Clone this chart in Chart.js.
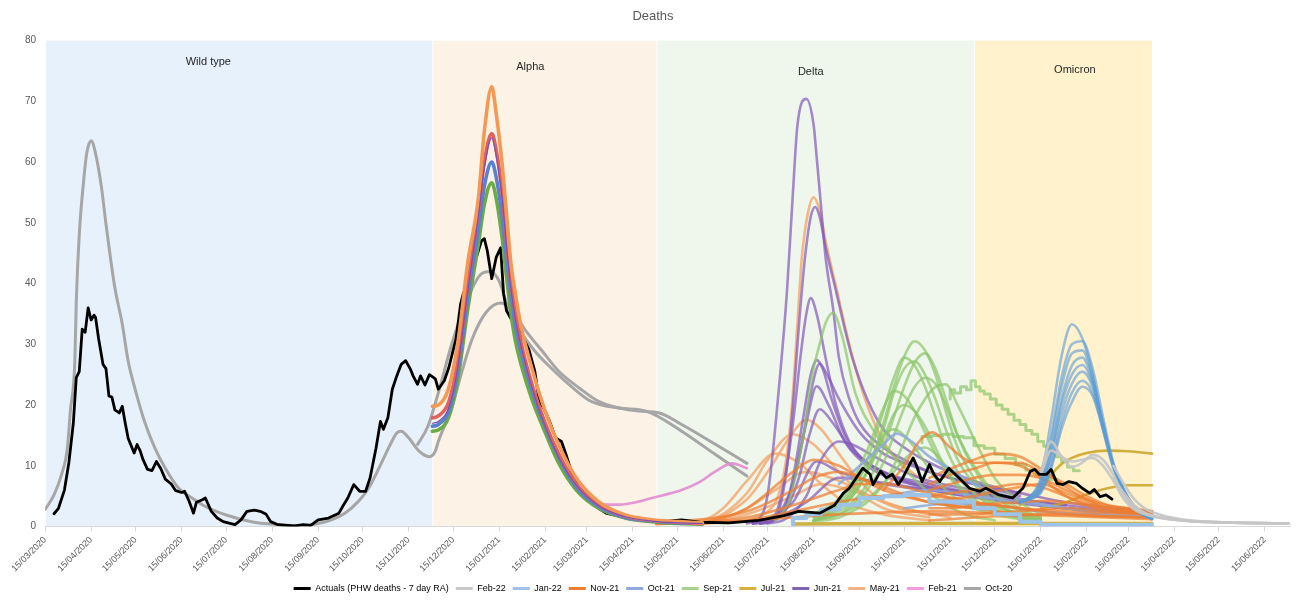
<!DOCTYPE html>
<html>
<head>
<meta charset="utf-8">
<title>Deaths</title>
<script src="https://cdn.jsdelivr.net/npm/chart.js@4.4.1/dist/chart.umd.min.js"></script>
<style>
  html, body { margin: 0; padding: 0; background: #fff; }
  canvas { display: block; }
</style>
</head>
<body>
<canvas id="deaths-chart" width="1298" height="603"></canvas>
<script>
/* ── Deaths: actuals vs modelled projections ── */

// ── Axis labels and variant periods ───────────
const xTickLabels = [
  '15/03/2020', '15/04/2020', '15/05/2020', '15/06/2020', '15/07/2020', '15/08/2020', '15/09/2020',
  '15/10/2020', '15/11/2020', '15/12/2020', '15/01/2021', '15/02/2021', '15/03/2021', '15/04/2021',
  '15/05/2021', '15/06/2021', '15/07/2021', '15/08/2021', '15/09/2021', '15/10/2021', '15/11/2021',
  '15/12/2021', '15/01/2022', '15/02/2022', '15/03/2022', '15/04/2022', '15/05/2022', '15/06/2022'
];
const xFirst = '15/03/2020';
const xLast = '02/07/2022';

const variantNames = ['Wild type', 'Alpha', 'Delta', 'Omicron'];
const variantFrom  = ['15/03/2020', '01/12/2020', '01/05/2021', '01/12/2021'];
const variantTo    = ['01/12/2020', '01/05/2021', '01/12/2021', '31/03/2022'];
// where each variant name is written
const variantLabelAt    = ['03/07/2020', '05/02/2021', '13/08/2021', '07/02/2022'];
const variantLabelLevel = [76.4, 75.7, 74.8, 75.2];

// ── Actuals (PHW deaths - 7 day RA) ───────────
const actualDeaths = [
  ['21/03/20', 2.1], ['24/03/20', 3.0], ['28/03/20', 6], ['31/03/20', 10.5], ['03/04/20', 17], ['05/04/20', 24.5],
  ['07/04/20', 25.5], ['09/04/20', 32.5], ['11/04/20', 32], ['13/04/20', 36], ['15/04/20', 34], ['17/04/20', 34.8],
  ['18/04/20', 34.4], ['20/04/20', 31], ['23/04/20', 26.7], ['25/04/20', 26], ['27/04/20', 21.5], ['29/04/20', 21.3],
  ['01/05/20', 19.2], ['04/05/20', 18.7], ['06/05/20', 19.8], ['08/05/20', 17], ['10/05/20', 14.5], ['14/05/20', 12.1],
  ['16/05/20', 13.5], ['18/05/20', 12.5], ['20/05/20', 11], ['23/05/20', 9.4], ['26/05/20', 9.2], ['29/05/20', 10.7],
  ['01/06/20', 9.5], ['04/06/20', 7.8], ['08/06/20', 7], ['11/06/20', 5.9], ['15/06/20', 5.6], ['17/06/20', 5.8],
  ['20/06/20', 4.2], ['23/06/20', 2.2], ['25/06/20', 4], ['29/06/20', 4.4], ['01/07/20', 4.7], ['05/07/20', 2.5],
  ['09/07/20', 1.4], ['13/07/20', 0.8], ['21/07/20', 0.3], ['25/07/20', 1.1], ['29/07/20', 2.5], ['03/08/20', 2.7],
  ['07/08/20', 2.5], ['11/08/20', 2], ['14/08/20', 0.8], ['19/08/20', 0.3], ['30/08/20', 0.1], ['05/09/20', 0.3],
  ['10/09/20', 0.2], ['15/09/20', 1.1], ['22/09/20', 1.4], ['29/09/20', 2.2], ['02/10/20', 3.5], ['05/10/20', 4.7],
  ['09/10/20', 6.9], ['13/10/20', 5.8], ['17/10/20', 5.8], ['20/10/20', 8], ['24/10/20', 12.9], ['27/10/20', 17.3],
  ['29/10/20', 16], ['01/11/20', 17.9], ['04/11/20', 22.6], ['07/11/20', 24.8], ['10/11/20', 26.7], ['13/11/20', 27.3],
  ['16/11/20', 26], ['18/11/20', 24.8], ['21/11/20', 23.4], ['23/11/20', 24.8], ['26/11/20', 23.3], ['29/11/20', 25],
  ['03/12/20', 24.3], ['05/12/20', 22.6], ['09/12/20', 24], ['12/12/20', 26.1], ['17/12/20', 31], ['20/12/20', 36.6],
  ['22/12/20', 38.5], ['24/12/20', 38.3], ['29/12/20', 43], ['03/01/21', 47], ['05/01/21', 47.4], ['07/01/21', 45.4],
  ['10/01/21', 40.8], ['13/01/21', 44.3], ['16/01/21', 45.9], ['18/01/21', 38.3], ['20/01/21', 35.5], ['23/01/21', 34.2],
  ['29/01/21', 32], ['04/02/21', 29.2], ['08/02/21', 25.6], ['11/02/21', 20.6], ['14/02/21', 19.5], ['18/02/21', 17.3],
  ['22/02/21', 14.6], ['26/02/21', 14], ['01/03/21', 11.9], ['05/03/21', 8.8], ['10/03/21', 6.1], ['14/03/21', 4.9],
  ['18/03/21', 4.7], ['23/03/21', 3], ['28/03/21', 2.2], ['06/04/21', 1.7], ['19/04/21', 1.4], ['26/04/21', 0.8],
  ['05/05/21', 0.8], ['18/05/21', 1.1], ['30/05/21', 0.7], ['19/06/21', 0.6], ['09/07/21', 1], ['26/07/21', 1.8],
  ['05/08/21', 2.5], ['19/08/21', 2.2], ['29/08/21', 3.5], ['04/09/21', 5.5], ['08/09/21', 6.3], ['17/09/21', 9.6],
  ['22/09/21', 8.6], ['24/09/21', 6.9], ['29/09/21', 9.1], ['03/10/21', 8], ['07/10/21', 8.6], ['11/10/21', 6.9],
  ['14/10/21', 8], ['21/10/21', 11.3], ['23/10/21', 10.2], ['27/10/21', 7.4], ['01/11/21', 10.2], ['04/11/21', 8.6],
  ['08/11/21', 7.4], ['14/11/21', 9.6], ['21/11/21', 8], ['28/11/21', 6.3], ['05/12/21', 5.8], ['09/12/21', 6.3],
  ['18/12/21', 5.2], ['27/12/21', 4.7], ['03/01/22', 6.3], ['08/01/22', 9.1], ['11/01/22', 9.4], ['14/01/22', 8.6],
  ['19/01/22', 8.6], ['22/01/22', 9.4], ['26/01/22', 7.1], ['30/01/22', 6.9], ['03/02/22', 7.4], ['08/02/22', 7.1],
  ['12/02/22', 6.3], ['17/02/22', 5.5], ['20/02/22', 6.1], ['24/02/22', 4.9], ['28/02/22', 5.2], ['04/03/22', 4.5]
];

// ── Oct-20 runs ───────────────────────────────
const oct20RunA = [
  ['15/03/20', 2.8], ['21/03/20', 5.2], ['26/03/20', 8.5], ['30/03/20', 12.9], ['01/04/20', 19], ['04/04/20', 27],
  ['05/04/20', 37], ['07/04/20', 48], ['10/04/20', 57], ['12/04/20', 61.4], ['15/04/20', 63.5], ['18/04/20', 61.4],
  ['22/04/20', 55.8], ['25/04/20', 49.8], ['28/04/20', 44.3], ['01/05/20', 39.3], ['06/05/20', 33.3], ['10/05/20', 27.2],
  ['15/05/20', 22.3], ['21/05/20', 17.3], ['28/05/20', 12.9], ['04/06/20', 9.6], ['13/06/20', 6.3], ['22/06/20', 4.7],
  ['01/07/20', 3.3], ['15/07/20', 1.9], ['01/08/20', 0.8], ['19/08/20', 0.3], ['02/09/20', 0.1], ['15/09/20', 0.5],
  ['24/09/20', 1.1], ['03/10/20', 2.2], ['12/10/20', 4.1], ['19/10/20', 6.3], ['26/10/20', 9.6], ['02/11/20', 13.2],
  ['07/11/20', 15.4], ['10/11/20', 15.7], ['15/11/20', 14.6], ['22/11/20', 12.4], ['29/11/20', 11.5], ['03/12/20', 12.4],
  ['05/12/20', 14], ['14/12/20', 19.5], ['21/12/20', 25.6], ['28/12/20', 31], ['06/01/21', 35.2], ['16/01/21', 36.8],
  ['24/01/21', 35.5], ['02/02/21', 32.2], ['13/02/21', 28.9], ['24/02/21', 25.6], ['10/03/21', 22.8], ['23/03/21', 20.6],
  ['06/04/21', 19.5], ['19/04/21', 19], ['03/05/21', 18.7], ['18/05/21', 16.8], ['10/06/21', 13.5], ['01/07/21', 10.4]
];
const oct20RunB = [
  ['21/11/20', 13.5], ['28/11/20', 16.5], ['05/12/20', 22], ['14/12/20', 30], ['25/12/20', 37.7], ['03/01/21', 41.6],
  ['09/01/21', 42], ['15/01/21', 40.4], ['21/01/21', 36], ['28/01/21', 32.7], ['08/02/21', 28.9], ['19/02/21', 26.1],
  ['03/03/21', 23.4], ['18/03/21', 20.6], ['06/04/21', 19.5], ['24/04/21', 19], ['18/05/21', 15.7], ['10/06/21', 11.8],
  ['01/07/21', 8.3]
];

// ── Alpha-wave runs (Dec-20) ──────────────────
const alphaDates = [
  '01/12/20', '05/12/20', '12/12/20', '18/12/20', '25/12/20', '01/01/21', '05/01/21', '10/01/21', '13/01/21', '17/01/21',
  '20/01/21', '23/01/21', '26/01/21', '30/01/21', '06/02/21', '15/02/21', '24/02/21', '08/03/21', '23/03/21', '10/04/21',
  '28/04/21', '16/05/21', '01/06/21'
];
const alphaHigh   = [19.8, 20, 22.8, 30, 43.7, 54, 65, 72.4, 68, 59.7, 51.4, 43.2, 38.2, 32.7, 26.1, 19, 13.5, 8, 4.1, 1.9, 1.1, 0.8, 0.6];
const alphaUpper  = [17.9, 18.2, 20.5, 27, 40, 52, 60, 64.7, 62, 55, 47, 40, 35, 30, 23.5, 17, 12, 7, 3.6, 1.7, 1, 0.7, 0.5];
const alphaMiddle = [17, 17.3, 19.5, 26, 39, 51, 59, 64, 61, 54, 46, 39, 34, 29.5, 23, 16.5, 11.5, 6.8, 3.4, 1.6, 0.9, 0.6, 0.5];
const alphaLower  = [16.5, 16.8, 19, 25.5, 38, 49, 56, 60, 57.5, 51, 44, 38, 33, 28.5, 22.5, 16.5, 11.5, 6.5, 3.3, 1.5, 0.9, 0.6, 0.5];
const alphaLow    = [15.7, 15.9, 18, 24, 36, 46.5, 53, 56.6, 54, 47.5, 41, 35, 30.5, 26.5, 21, 15.5, 10.5, 6, 3, 1.4, 0.8, 0.5, 0.4];

// ── Feb-21 ────────────────────────────────────
const feb21Run = [
  ['17/03/21', 4.6], ['21/03/21', 4], ['28/03/21', 3.6], ['06/04/21', 3.6], ['19/04/21', 4.1], ['28/04/21', 4.7],
  ['18/05/21', 6], ['30/05/21', 7.3], ['10/06/21', 9.1], ['21/06/21', 10.4], ['01/07/21', 9.6]
];

// ── May-21 ────────────────────────────────────
const may21Runs = [
  [['01/07/21', 1], ['15/07/21', 2.5], ['22/07/21', 5], ['28/07/21', 12], ['01/08/21', 22], ['04/08/21', 33.3],
   ['07/08/21', 44.3], ['11/08/21', 51.5], ['15/08/21', 54.2], ['19/08/21', 52], ['23/08/21', 47], ['30/08/21', 39.5],
   ['10/09/21', 28], ['20/09/21', 20], ['01/10/21', 14], ['15/10/21', 10], ['01/11/21', 7], ['01/12/21', 5]],
  [['01/05/21', 0.5], ['01/06/21', 0.8], ['01/07/21', 4.5], ['15/07/21', 9], ['01/08/21', 15.5], ['10/08/21', 17.6],
   ['20/08/21', 16], ['01/09/21', 12], ['15/09/21', 7.5], ['01/10/21', 4], ['01/11/21', 2]],
  [['01/05/21', 0.5], ['01/06/21', 0.8], ['01/07/21', 5.5], ['15/07/21', 11], ['01/08/21', 15.2], ['15/08/21', 13.5],
   ['01/09/21', 9], ['15/09/21', 5.5], ['01/10/21', 3], ['01/11/21', 1.5]],
  [['01/05/21', 0.5], ['01/06/21', 1], ['15/06/21', 3], ['01/07/21', 7.5], ['20/07/21', 12], ['05/08/21', 10.5],
   ['20/08/21', 7], ['05/09/21', 4], ['01/10/21', 2], ['01/11/21', 1]],
  [['01/05/21', 0.5], ['01/06/21', 0.5], ['01/07/21', 3], ['20/07/21', 6], ['10/08/21', 9], ['01/09/21', 7.5],
   ['01/10/21', 4], ['01/11/21', 2]],
  [['01/06/21', 0.6], ['01/07/21', 2], ['01/08/21', 5], ['20/08/21', 7], ['15/09/21', 5.5], ['15/10/21', 3], ['15/11/21', 1.5]]
];

// ── Jun-21 ────────────────────────────────────
const jun21Runs = [
  [['01/07/21', 0.5], ['10/07/21', 1.5], ['14/07/21', 4], ['17/07/21', 9], ['23/07/21', 24], ['28/07/21', 38.8],
   ['01/08/21', 55], ['04/08/21', 66], ['10/08/21', 70.4], ['15/08/21', 66], ['17/08/21', 60.8], ['20/08/21', 52.5],
   ['23/08/21', 44.3], ['28/08/21', 36], ['01/09/21', 27.8], ['08/09/21', 21], ['15/09/21', 17], ['01/10/21', 13],
   ['15/10/21', 11], ['01/11/21', 9], ['15/11/21', 8], ['01/12/21', 7], ['01/01/22', 5]],
  [['05/07/21', 0.5], ['20/07/21', 1.5], ['27/07/21', 8], ['01/08/21', 20], ['05/08/21', 33], ['09/08/21', 44],
   ['13/08/21', 51], ['16/08/21', 52.6], ['19/08/21', 51], ['23/08/21', 46], ['30/08/21', 38.8], ['05/09/21', 32.5],
   ['10/09/21', 27.8], ['20/09/21', 21], ['01/10/21', 16], ['15/10/21', 13], ['01/11/21', 10.5], ['01/12/21', 7.5],
   ['01/01/22', 5.5]],
  [['05/07/21', 0.5], ['20/07/21', 2], ['28/07/21', 10], ['02/08/21', 19], ['06/08/21', 27.8], ['10/08/21', 35],
   ['13/08/21', 37.6], ['17/08/21', 35], ['23/08/21', 27.8], ['30/08/21', 20], ['08/09/21', 14], ['20/09/21', 10.5],
   ['05/10/21', 8.5], ['01/11/21', 6.5], ['01/12/21', 5], ['01/01/22', 4]],
  [['05/07/21', 0.5], ['25/07/21', 2], ['01/08/21', 8], ['08/08/21', 18], ['13/08/21', 25], ['17/08/21', 27.4],
   ['21/08/21', 26], ['27/08/21', 21], ['05/09/21', 15], ['15/09/21', 11.5], ['01/10/21', 9], ['20/10/21', 7],
   ['15/11/21', 5.5], ['01/12/21', 5], ['01/01/22', 4], ['01/02/22', 3], ['31/03/22', 2]],
  [['10/07/21', 0.5], ['25/07/21', 2.5], ['01/08/21', 7], ['08/08/21', 15], ['13/08/21', 22], ['19/08/21', 26.8],
   ['24/08/21', 25], ['01/09/21', 21], ['15/09/21', 15.5], ['01/10/21', 12], ['15/10/21', 10.5], ['01/11/21', 9],
   ['15/11/21', 8], ['01/12/21', 7], ['01/01/22', 5.5], ['01/02/22', 4], ['31/03/22', 2.5]],
  [['10/07/21', 0.5], ['20/07/21', 1.5], ['01/08/21', 7], ['10/08/21', 17], ['17/08/21', 23.1], ['25/08/21', 20],
   ['05/09/21', 14], ['20/09/21', 10], ['05/10/21', 8], ['01/11/21', 6.5], ['01/12/21', 5.5], ['01/01/22', 4.5]],
  [['10/07/21', 0.5], ['25/07/21', 2], ['05/08/21', 8], ['12/08/21', 15], ['19/08/21', 19.3], ['28/08/21', 17],
   ['10/09/21', 12.5], ['01/10/21', 9], ['01/11/21', 7], ['01/12/21', 5.5], ['01/01/22', 4.5], ['01/02/22', 3.5],
   ['31/03/22', 2.2]],
  [['10/07/21', 0.5], ['25/07/21', 1], ['10/08/21', 5], ['20/08/21', 11], ['01/09/21', 14], ['10/09/21', 13.5],
   ['25/09/21', 11.5], ['15/10/21', 9], ['01/11/21', 7.5], ['01/12/21', 6], ['01/01/22', 4.5], ['01/02/22', 3.5]],
  [['10/07/21', 0.5], ['01/08/21', 4], ['17/08/21', 10.7], ['01/09/21', 9], ['01/10/21', 7], ['01/11/21', 6],
   ['01/12/21', 5], ['01/01/22', 4], ['01/02/22', 3], ['31/03/22', 2]],
  [['15/07/21', 0.5], ['10/08/21', 4], ['01/09/21', 8], ['01/10/21', 7.2], ['01/11/21', 6], ['01/12/21', 4.8],
   ['01/01/22', 3.8], ['01/02/22', 3], ['31/03/22', 2]]
];

// ── Jul-21 ────────────────────────────────────
const jul21Runs = [
  [['01/08/21', 0.4], ['01/11/21', 0.5], ['01/02/22', 0.5], ['31/03/22', 0.5]],
  [['01/01/22', 3.5], ['15/01/22', 6], ['22/01/22', 8.5], ['29/01/22', 10.3], ['05/02/22', 11.3], ['15/02/22', 12.1],
   ['01/03/22', 12.5], ['15/03/22', 12.4], ['31/03/22', 12]],
  [['15/01/22', 3], ['01/02/22', 4], ['15/02/22', 5.3], ['01/03/22', 6.3], ['15/03/22', 6.8], ['31/03/22', 6.8]]
];

// ── Sep-21 ────────────────────────────────────
const sep21Early = [
  ['20/07/21', 1], ['29/07/21', 4], ['03/08/21', 8.6], ['09/08/21', 16.2], ['14/08/21', 25], ['19/08/21', 30],
  ['23/08/21', 33.5], ['28/08/21', 35.2], ['03/09/21', 31.5], ['12/09/21', 22], ['26/09/21', 15.2], ['11/10/21', 10.7],
  ['02/11/21', 5.3], ['25/11/21', 2], ['15/12/21', 1]
];
const sep21Dates = [
  '15/08/21', '01/09/21', '10/09/21', '20/09/21', '01/10/21', '08/10/21', '15/10/21', '22/10/21', '29/10/21',
  '05/11/21', '12/11/21', '20/11/21', '01/12/21', '15/12/21', '01/01/22', '15/01/22'
];
const sep21Runs = [
  [1, 3, 5, 9, 17, 23, 28, 30.5, 29, 25, 19, 13, 8, 4, 2, 1.2],
  [1, 2.5, 4, 7, 13, 18, 23, 27, 28.5, 26, 21, 15, 9.5, 5, 2.5, 1.5],
  [1.5, 3.5, 6, 11, 19, 24.5, 27.8, 26.5, 23, 18, 13, 9, 5.5, 3, 1.5, 1],
  [1, 3, 5, 9, 16, 22, 26, 27.2, 25, 21, 16, 11, 7, 3.5, 2, 1],
  [1, 2, 3.5, 6, 10.5, 15, 19.5, 23, 24.5, 23.5, 20, 15, 10, 5.5, 3, 1.5],
  [0.8, 1.5, 2.5, 4, 7, 10, 14, 18, 21, 23, 23.4, 20, 14.5, 8, 4, 2],
  [2, 4.5, 7.5, 12.5, 19.5, 22.3, 21.5, 19, 15.5, 12, 9, 6.5, 4, 2.5, 1.5, 1],
  [1.5, 3.5, 5.5, 9, 14.5, 18.5, 20, 19, 16.5, 13, 9.5, 7, 4.5, 2.5, 1.5, 1],
  [2, 4, 6.5, 10, 15, 16, 15, 13, 10.5, 8, 6, 4.5, 3, 2, 1.2, 0.8],
  [1, 2, 3, 4.5, 7, 9, 11, 12.5, 13, 12, 10, 8, 5.5, 3.5, 2, 1.2]
];
const sep21StepHigh = [
  ['15/11/21', 21], ['18/11/21', 22.5], ['22/11/21', 22], ['26/11/21', 23], ['29/11/21', 22.5], ['02/12/21', 24],
  ['05/12/21', 23], ['08/12/21', 22.3], ['12/12/21', 21.8], ['16/12/21', 21], ['20/12/21', 20], ['24/12/21', 19.3],
  ['28/12/21', 18.5], ['01/01/22', 17.5], ['05/01/22', 16.8], ['09/01/22', 15.8], ['13/01/22', 15.2], ['17/01/22', 14],
  ['21/01/22', 13.2], ['25/01/22', 12.2], ['29/01/22', 11.5], ['02/02/22', 10.7], ['06/02/22', 9.8], ['10/02/22', 9.2]
];
const sep21StepLow = [
  ['27/10/21', 13.8], ['03/11/21', 14.8], ['10/11/21', 15], ['17/11/21', 15.2], ['24/11/21', 14.8], ['01/12/21', 14.6],
  ['08/12/21', 13.3], ['15/12/21', 12.9], ['22/12/21', 11.9], ['29/12/21', 11.2], ['05/01/22', 10.2], ['12/01/22', 9.3],
  ['19/01/22', 8.6], ['26/01/22', 7.8]
];

// ── Oct-21 ────────────────────────────────────
const oct21Runs = [
  [['01/09/21', 7], ['15/09/21', 10], ['01/10/21', 13.5], ['10/10/21', 15.3], ['20/10/21', 14], ['01/11/21', 11.5],
   ['15/11/21', 9.5], ['01/12/21', 7], ['01/01/22', 4.5], ['01/02/22', 3], ['01/03/22', 2], ['31/03/22', 1.8]],
  [['01/10/21', 5], ['01/11/21', 6], ['01/12/21', 5], ['01/01/22', 4], ['01/02/22', 3], ['31/03/22', 2]],
  [['15/10/21', 3], ['15/11/21', 3.8], ['15/12/21', 3.5], ['15/01/22', 2.5], ['31/03/22', 1.5]]
];

// ── Nov-21 ────────────────────────────────────
const nov21Dates = [
  '01/11/21', '15/11/21', '01/12/21', '15/12/21', '01/01/22', '15/01/22', '01/02/22', '15/02/22', '01/03/22', '15/03/22', '31/03/22'
];
const nov21Runs = [
  [8, 9.5, 11, 12, 11.5, 9.5, 6.5, 4.5, 3.5, 3, 2.5],
  [7, 8.5, 9.5, 10.5, 10.5, 9, 7, 5, 3.5, 3, 2.5],
  [6, 7, 8, 8.5, 8.5, 8, 6, 4.5, 3, 2.5, 2],
  [4, 4.5, 5, 5.8, 6.5, 7, 5.5, 4.2, 3, 2.7, 2.5],
  [3, 3, 3.5, 3.8, 4, 4.2, 4, 3.5, 3, 2.5, 2],
  [2, 2, 2, 2.3, 2.5, 2.8, 3, 2.8, 2.5, 2.3, 2.2],
  [1, 1.2, 1.5, 1.7, 1.8, 2, 2, 1.9, 1.7, 1.6, 1.5],
  [5, 5.5, 6, 6.5, 7, 6.5, 5, 3.8, 3, 2.5, 2.2]
];
const nov21Longer = [
  [['01/10/21', 6], ['15/10/21', 10], ['25/10/21', 14], ['03/11/21', 15.5], ['15/11/21', 13], ['01/12/21', 10.5],
   ['15/12/21', 10.5], ['01/01/22', 10], ['15/01/22', 8], ['01/02/22', 5], ['15/02/22', 3.5], ['01/03/22', 2.5], ['31/03/22', 2]],
  [['01/05/21', 0.5], ['01/06/21', 0.7], ['01/07/21', 1.5], ['01/08/21', 3.5], ['01/09/21', 6], ['15/09/21', 7],
   ['01/10/21', 7], ['01/11/21', 5.5], ['01/12/21', 4], ['01/01/22', 3], ['01/02/22', 2], ['31/03/22', 1.5]],
  [['01/05/21', 0.5], ['01/07/21', 2.5], ['01/08/21', 6], ['15/08/21', 8], ['01/09/21', 9], ['15/09/21', 8],
   ['01/10/21', 6.5], ['01/11/21', 4], ['01/12/21', 3], ['01/01/22', 2]],
  [['01/06/21', 0.5], ['01/07/21', 1], ['01/08/21', 2.5], ['01/09/21', 4], ['01/10/21', 5], ['01/11/21', 5],
   ['01/12/21', 4], ['01/01/22', 3], ['01/02/22', 2.5], ['31/03/22', 2]],
  [['01/06/21', 0.5], ['01/07/21', 3], ['01/08/21', 9], ['15/08/21', 11], ['01/09/21', 10], ['15/09/21', 8],
   ['01/10/21', 6], ['01/11/21', 4], ['01/12/21', 3]],
  [['01/05/21', 0.4], ['01/07/21', 1], ['01/09/21', 2], ['01/11/21', 2.5], ['01/01/22', 2], ['31/03/22', 1.2]]
];

// ── Jan-22 ────────────────────────────────────
const jan22Step = [
  ['01/08/21', 0.3], ['10/08/21', 1.4], ['20/08/21', 2], ['01/09/21', 2.8], ['15/09/21', 3.6], ['01/10/21', 4.7],
  ['15/10/21', 5], ['01/11/21', 5.2], ['15/11/21', 4.1], ['01/12/21', 4.1], ['15/12/21', 3], ['01/01/22', 2],
  ['15/01/22', 0.8], ['01/02/22', 0.3], ['31/03/22', 0.3]
];
const jan22Dates = [
  '01/01/22', '08/01/22', '15/01/22', '22/01/22', '29/01/22', '05/02/22', '12/02/22', '19/02/22', '26/02/22',
  '05/03/22', '12/03/22', '19/03/22', '26/03/22', '31/03/22'
];
const jan22Runs = [
  [4, 5, 8, 17.5, 28, 33.3, 31, 25, 16, 9.5, 5.5, 3, 1.8, 1.2],
  [4, 5, 7.5, 15, 24.5, 30, 30.5, 26, 18, 10.5, 6, 3.3, 2, 1.3],
  [4, 5, 7, 14, 23, 28.5, 29, 24.5, 17, 10, 5.5, 3, 1.8, 1.2],
  [4, 4.8, 6.5, 12.5, 21, 26.5, 27.8, 24, 17, 10, 5.8, 3.2, 2, 1.3],
  [4, 4.8, 6.5, 12, 20, 25, 26.6, 23.5, 16.5, 10, 5.8, 3.2, 2, 1.3],
  [4, 4.7, 6, 11, 18.5, 23.5, 25.5, 23, 16.5, 10, 6, 3.3, 2, 1.3],
  [4, 4.6, 5.8, 10, 17, 22, 24, 22, 16, 10, 6, 3.3, 2, 1.3],
  [4, 4.5, 5.5, 9.5, 16, 20.5, 23, 21.5, 16, 10, 6, 3.4, 2.1, 1.4]
];

// ── Feb-22 ────────────────────────────────────
const feb22Runs = [
  [['15/01/22', 9], ['22/01/22', 14], ['29/01/22', 11.5], ['05/02/22', 9.8], ['12/02/22', 10.5], ['19/02/22', 11.8],
   ['26/02/22', 11], ['05/03/22', 8.5], ['12/03/22', 5], ['19/03/22', 3], ['31/03/22', 1.8], ['15/04/22', 1.2],
   ['01/05/22', 0.8], ['01/06/22', 0.6], ['01/07/22', 0.5]],
  [['15/01/22', 8.5], ['22/01/22', 12.5], ['29/01/22', 11.5], ['05/02/22', 10.7], ['12/02/22', 11], ['19/02/22', 11.3],
   ['26/02/22', 10], ['05/03/22', 7.5], ['12/03/22', 4.5], ['19/03/22', 2.8], ['31/03/22', 1.7], ['15/04/22', 1.1],
   ['01/05/22', 0.8], ['01/06/22', 0.6], ['01/07/22', 0.5]],
  [['05/03/22', 8], ['12/03/22', 5.5], ['19/03/22', 3.5], ['26/03/22', 2.3], ['05/04/22', 1.5], ['15/04/22', 1.1],
   ['01/05/22', 0.8], ['01/06/22', 0.6], ['01/07/22', 0.5]],
  [['05/03/22', 10], ['12/03/22', 7], ['19/03/22', 4.5], ['26/03/22', 3], ['05/04/22', 2], ['15/04/22', 1.4],
   ['01/05/22', 0.9], ['01/06/22', 0.6], ['01/07/22', 0.5]]
];

// ── Colours ───────────────────────────────────
const bandColours = ['#e7f1fb', '#fdf2e6', '#eff6eb', '#fff2cc'];
const alphaColours = ['#f29a55', '#e0615e', '#7d4fb0', '#5a80d0', '#6aab45'];
const lineColours = {
  actual: '#000000',
  feb22: 'rgba(198,198,198,0.95)',
  jan22: '#9dc3e6',
  jan22Peak: 'rgba(91,155,213,0.6)',
  nov21: 'rgba(237,125,49,0.72)',
  oct21: 'rgba(142,169,219,0.85)',
  sep21: 'rgba(140,196,105,0.7)',
  jul21: 'rgba(201,163,38,0.85)',
  jun21: 'rgba(130,88,186,0.7)',
  may21: 'rgba(243,168,110,0.8)',
  feb21: 'rgba(226,140,210,0.9)',
  oct20: '#a6a6a6'
};
const legendColours = {
  feb22: '#c9c9c9', jan22: '#9dc3e6', nov21: '#ed7d31', oct21: '#8ea9db', sep21: '#a9d18e',
  jul21: '#d6b13c', jun21: '#8064b4', may21: '#f4b183', feb21: '#f09ddf', oct20: '#a6a6a6'
};

// ── Helpers ───────────────────────────────────
const dayOf = s => {
  const [d, m, y] = s.split('/').map(Number);
  return Date.UTC(y < 100 ? 2000 + y : y, m - 1, d) / 864e5;
};
const fromPairs = pairs => pairs.map(([d, v]) => ({ x: dayOf(d), y: v }));
const onDates = (dates, vals) => dates.map((d, i) => ({ x: dayOf(d), y: vals[i] }));

const datasets = [];
function addLine(data, colour, width, extra = {}) {
  datasets.push(Object.assign({
    data, borderColor: colour, borderWidth: width, pointRadius: 0, pointHoverRadius: 0,
    fill: false, cubicInterpolationMode: 'monotone', borderJoinStyle: 'round', borderCapStyle: 'round', order: 0
  }, extra));
}
function legendEntry(label, rank, colour) {
  return { label, legendRank: rank, legendColour: colour };
}

// ── Build datasets (earlier index = drawn on top) ──
addLine(fromPairs(actualDeaths), lineColours.actual, 2.8,
  Object.assign({ cubicInterpolationMode: 'default', tension: 0 }, legendEntry('Actuals (PHW deaths - 7 day RA)', 0, '#000000')));

feb22Runs.forEach((run, i) =>
  addLine(fromPairs(run), lineColours.feb22, 2.6, i === 0 ? legendEntry('Feb-22', 1, legendColours.feb22) : {}));

addLine(fromPairs(jan22Step), lineColours.jan22, 4, Object.assign({ stepped: 'after' }, legendEntry('Jan-22', 2, legendColours.jan22)));
jan22Runs.forEach(vals => addLine(onDates(jan22Dates, vals), lineColours.jan22Peak, 2.6));

nov21Runs.forEach((vals, i) =>
  addLine(onDates(nov21Dates, vals), lineColours.nov21, 2.6, i === 0 ? legendEntry('Nov-21', 3, legendColours.nov21) : {}));
nov21Longer.forEach(run => addLine(fromPairs(run), lineColours.nov21, 2.6));

oct21Runs.forEach((run, i) =>
  addLine(fromPairs(run), lineColours.oct21, 2.6, i === 0 ? legendEntry('Oct-21', 4, legendColours.oct21) : {}));

addLine(fromPairs(sep21Early), lineColours.sep21, 2.6, legendEntry('Sep-21', 5, legendColours.sep21));
sep21Runs.forEach(vals => addLine(onDates(sep21Dates, vals), lineColours.sep21, 2.6));
addLine(fromPairs(sep21StepHigh), lineColours.sep21, 3, { stepped: 'after' });
addLine(fromPairs(sep21StepLow), lineColours.sep21, 3, { stepped: 'after' });

jul21Runs.forEach((run, i) =>
  addLine(fromPairs(run), lineColours.jul21, i === 0 ? 3.5 : 2.6, i === 0 ? legendEntry('Jul-21', 6, legendColours.jul21) : {}));

jun21Runs.forEach((run, i) =>
  addLine(fromPairs(run), lineColours.jun21, 2.6, i === 0 ? legendEntry('Jun-21', 7, legendColours.jun21) : {}));

may21Runs.forEach((run, i) =>
  addLine(fromPairs(run), lineColours.may21, 2.6, i === 0 ? legendEntry('May-21', 8, legendColours.may21) : {}));

addLine(fromPairs(feb21Run), lineColours.feb21, 2.6, legendEntry('Feb-21', 9, legendColours.feb21));

addLine(fromPairs(oct20RunA), lineColours.oct20, 3, legendEntry('Oct-20', 10, legendColours.oct20));
addLine(fromPairs(oct20RunB), lineColours.oct20, 3);

// Alpha-wave runs sit above everything else
[alphaHigh, alphaUpper, alphaLower, alphaLow].forEach((vals, i) =>
  addLine(onDates(alphaDates, vals), alphaColours[[0, 1, 3, 4][i]], 3.6, { order: -1 }));
addLine(onDates(alphaDates, alphaMiddle), alphaColours[2], 1.2, { order: -2 });

// ── Variant bands ─────────────────────────────
const variantBands = {
  id: 'variantBands',
  beforeDraw(chart) {
    const { ctx, scales: { x, y } } = chart;
    const top = y.getPixelForValue(80);
    const bottom = y.getPixelForValue(0);
    ctx.save();
    variantNames.forEach((name, i) => {
      const x0 = x.getPixelForValue(dayOf(variantFrom[i]));
      const x1 = x.getPixelForValue(dayOf(variantTo[i]));
      ctx.fillStyle = bandColours[i];
      ctx.fillRect(x0 + 1, top, x1 - x0 - 1, bottom - top);
      ctx.fillStyle = '#262626';
      ctx.font = "11px 'Liberation Sans', Arial, sans-serif";
      ctx.textAlign = 'center';
      ctx.textBaseline = 'middle';
      ctx.fillText(name, x.getPixelForValue(dayOf(variantLabelAt[i])), y.getPixelForValue(variantLabelLevel[i]));
    });
    ctx.restore();
  }
};

// ── Chart ─────────────────────────────────────
const tickValues = xTickLabels.map(dayOf);
const tickText = {};
tickValues.forEach((v, i) => { tickText[v] = xTickLabels[i]; });

new Chart(document.getElementById('deaths-chart').getContext('2d'), {
  type: 'line',
  data: { datasets },
  plugins: [variantBands],
  options: {
    responsive: false,
    animation: false,
    devicePixelRatio: 1,
    layout: { padding: { left: 16, right: 8, top: 0, bottom: 0 } },
    plugins: {
      title: {
        display: true, text: 'Deaths', color: '#595959',
        font: { family: "'Liberation Sans', Arial, sans-serif", size: 13, weight: 'normal' },
        padding: { top: 9, bottom: 16 }
      },
      tooltip: { enabled: false },
      legend: {
        position: 'bottom',
        labels: {
          boxWidth: 17, boxHeight: 3, padding: 7, color: '#404040',
          font: { family: "'Liberation Sans Narrow', 'Liberation Sans', Arial, sans-serif", size: 9 },
          generateLabels: chart => chart.data.datasets
            .map((ds, i) => ds.legendRank == null ? null : {
              text: ds.label, fillStyle: ds.legendColour, strokeStyle: ds.legendColour,
              lineWidth: 0, hidden: false, datasetIndex: i, rank: ds.legendRank
            })
            .filter(Boolean)
            .sort((a, b) => a.rank - b.rank)
        }
      }
    },
    scales: {
      x: {
        type: 'linear',
        min: dayOf(xFirst),
        max: dayOf(xLast),
        afterBuildTicks: scale => { scale.ticks = tickValues.map(value => ({ value })); },
        ticks: {
          autoSkip: false, maxRotation: 45, minRotation: 45, color: '#595959', padding: 3,
          font: { family: "'Liberation Sans', Arial, sans-serif", size: 9 },
          callback: v => tickText[v] || ''
        },
        grid: { display: true, drawOnChartArea: false, drawTicks: true, tickLength: 5, color: '#d9d9d9' },
        border: { display: true, color: '#d9d9d9' }
      },
      y: {
        min: 0, max: 80,
        ticks: {
          stepSize: 10, color: '#595959', padding: 9,
          font: { family: "'Liberation Sans', Arial, sans-serif", size: 10 }
        },
        grid: { display: false, drawTicks: false },
        border: { display: false }
      }
    }
  }
});
</script>
</body>
</html>
